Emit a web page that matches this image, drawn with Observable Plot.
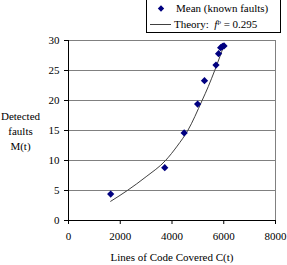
<!DOCTYPE html>
<html><head><meta charset="utf-8">
<script src="https://cdn.jsdelivr.net/npm/d3@7"></script>
<script src="https://cdn.jsdelivr.net/npm/@observablehq/plot@0.6"></script>
<style>
body{margin:0;background:#fff;font-family:"Liberation Serif","Times New Roman",serif;}
#wrap{position:relative;width:287px;height:265px;overflow:hidden;}
#wrap svg{display:block;}
#legend{position:absolute;left:0;top:0;}
</style></head><body><div id="wrap"></div>
<script>
// Observed data: mean detected faults vs lines of code covered
const coverage = [1630, 3720, 4470, 4990, 5255, 5700, 5800, 5880, 5950, 6010];
const faults   = [4.4, 8.8, 14.6, 19.4, 23.3, 25.9, 27.8, 28.8, 29.0, 29.1];
// Theory curve
const theoryC = [1630, 2273, 3000, 3750, 4200, 4610, 5163, 5400, 5650, 5850, 6000];
const theoryM = [3.2, 5.0, 7.3, 10.0, 12.4, 15.0, 20.0, 22.3, 25.0, 27.3, 29.1];
const xTicks = [0, 2000, 4000, 6000, 8000];
const yTicks = [0, 5, 10, 15, 20, 25, 30];
const xTitle = "Lines of Code Covered C(t)";
const yTitle = "Detected\nfaults\nM(t)";
const seriesNames = ["Mean (known faults)", "Theory:"];

const pts = coverage.map((c, i) => ({c, m: faults[i]}));
const theory = theoryC.map((c, i) => ({c, m: theoryM[i]}));

const diamond = {
  draw(ctx, size) {
    const h = Math.sqrt(size / 2);
    ctx.moveTo(0, -h); ctx.lineTo(h, 0); ctx.lineTo(0, h); ctx.lineTo(-h, 0); ctx.closePath();
  }
};

const chart = Plot.plot({
  width: 287, height: 265,
  marginLeft: 68, marginRight: 12, marginTop: 40, marginBottom: 45,
  x: {domain: [0, 8000], ticks: xTicks},
  y: {domain: [0, 30], ticks: yTicks},
  style: {fontFamily: '"Liberation Serif","Times New Roman",serif', fontSize: "11px", background: "white", color: "black"},
  marks: [
    Plot.gridY(yTicks, {stroke: "#808080", strokeOpacity: 1}),
    Plot.ruleX([8000], {stroke: "#808080"}),
    Plot.ruleX([0], {stroke: "#000"}),
    Plot.ruleY([0], {stroke: "#000"}),
    Plot.axisX(xTicks, {tickSize: 4, tickPadding: 8, tickFormat: d => String(d), label: null}),
    Plot.axisY(yTicks, {tickSize: 4, tickPadding: 5, tickFormat: d => String(d), label: null}),
    Plot.text([xTitle], {frameAnchor: "bottom", dy: 37, lineAnchor: "middle", fontSize: 11}),
    Plot.text([yTitle], {frameAnchor: "left", dx: -48, textAnchor: "middle", lineAnchor: "middle", lineHeight: 1.36, fontSize: 11}),
    Plot.line(theory, {x: "c", y: "m", stroke: "#404040", strokeWidth: 1, curve: "monotone-x"}),
    Plot.dot(pts, {x: "c", y: "m", symbol: diamond, r: 2.9, fill: "#000080", stroke: "none"})
  ]
});
document.getElementById("wrap").appendChild(chart);

// Legend overlay
const lg = d3.select("#wrap").append("svg").attr("id", "legend")
  .attr("width", 287).attr("height", 40)
  .style("font-family", '"Liberation Serif","Times New Roman",serif').style("font-size", "11px");
lg.append("rect").attr("x", 146.5).attr("y", -5).attr("width", 134).attr("height", 37.5)
  .attr("fill", "white").attr("stroke", "#000").attr("stroke-width", 1);
lg.append("path").attr("transform", "translate(161,8.5)")
  .attr("d", d3.symbol({draw: diamond.draw}, 20)()).attr("fill", "#000080");
lg.append("text").attr("x", 176).attr("y", 12).text(seriesNames[0]);
lg.append("line").attr("x1", 150).attr("x2", 171).attr("y1", 24.5).attr("y2", 24.5)
  .attr("stroke", "#404040").attr("stroke-width", 1);
const t2 = lg.append("text").attr("x", 174).attr("y", 28);
t2.append("tspan").text(seriesNames[1] + "\u00a0\u00a0");
t2.append("tspan").attr("font-style", "italic").text("f");
t2.append("tspan").attr("font-size", "7px").attr("dy", -4).text("p");
t2.append("tspan").attr("dy", 4).text(" = 0.295");
</script>
</body></html>
